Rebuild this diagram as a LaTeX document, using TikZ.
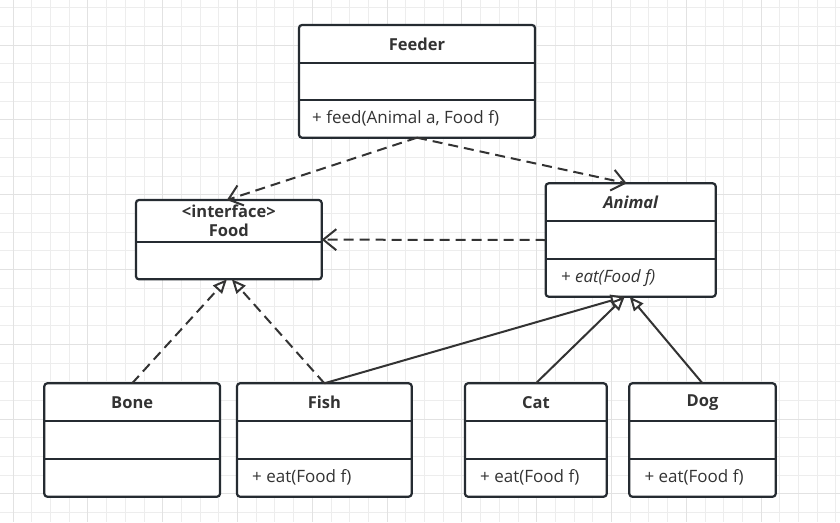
\documentclass[tikz,border=0pt]{standalone}
\usepackage{fontspec}
\setmainfont{Open Sans}
\usetikzlibrary{arrows.meta}
\definecolor{boxline}{HTML}{252B31}
\definecolor{conn}{HTML}{333333}
\definecolor{gridminor}{HTML}{EDEDED}
\definecolor{gridmajor}{HTML}{E2E2E2}
\definecolor{txt}{HTML}{333333}
\begin{document}
\begin{tikzpicture}[x=1pt,y=-1pt,
  umlbox/.style={draw=boxline, line width=2.2pt, fill=white, rounded corners=3pt, inner sep=0pt, outer sep=0pt},
  divider/.style={draw=boxline, line width=2.2pt},
  title/.style={font=\fontsize{16.5}{19}\selectfont\bfseries, text=txt, inner sep=0pt, align=center},
  member/.style={font=\fontsize{17}{19}\selectfont, text=txt, inner sep=0pt, anchor=west},
  dep/.style={draw=conn, line width=2pt, dash pattern=on 10pt off 6pt, -{Straight Barb[length=13pt,width=21pt]}},
  realize/.style={draw=conn, line width=2pt, dash pattern=on 10pt off 6pt, -{Triangle[open,length=14pt,width=12pt,fill=white]}},
  inherit/.style={draw=conn, line width=2pt, -{Triangle[open,length=14pt,width=12pt,fill=white]}},
  gminor/.style={draw=gridminor, line width=0.8pt},
  gmajor/.style={draw=gridmajor, line width=0.8pt}
]
\useasboundingbox[fill=white] (0,0) rectangle (840,522);
% grid
\foreach \k in {0,...,45} {
  \draw[gminor] ({13+18.7*(\k-1)},0) -- ++(0,522);
}
\foreach \k in {0,...,28} {
  \draw[gminor] (0,{7.6+18.7*\k}) -- ++(840,0);
}
\foreach \k in {0,...,11} {
  \draw[gmajor] ({13+74.8*(\k-1)},0) -- ++(0,522);
}
\foreach \k in {-1,...,6} {
  \draw[gmajor] (0,{419-74.8*\k}) -- ++(840,0);
}

% boxes
\node[umlbox, minimum width=236pt, minimum height=112.7pt] (feeder) at (417,81.35) {};
\node[umlbox, minimum width=185.7pt, minimum height=79.3pt] (food) at (228.85,239.65) {};
\node[umlbox, minimum width=170pt, minimum height=113.4pt] (animal) at (630.7,240) {};
\node[umlbox, minimum width=175.7pt, minimum height=113.4pt] (bone) at (132.15,440) {};
\node[umlbox, minimum width=174.7pt, minimum height=113.4pt] (fish) at (324.35,440) {};
\node[umlbox, minimum width=141.7pt, minimum height=113.4pt] (cat) at (535.85,440) {};
\node[umlbox, minimum width=146.4pt, minimum height=113.4pt] (dog) at (702.5,440) {};

% dividers
\foreach \b in {feeder,animal,bone,fish,cat,dog} {
  \draw[divider] ([yshift=-37.6pt]\b.north west) -- ([yshift=-37.6pt]\b.north east);
  \draw[divider] ([yshift=37.6pt]\b.south west) -- ([yshift=37.6pt]\b.south east);
}
\draw[divider] ([yshift=37.6pt]food.south west) -- ([yshift=37.6pt]food.south east);

% titles
\node[title] (tfeeder) at ([yshift=-19pt]feeder.north) {Feeder};
\node[title] (tfood) at ([yshift=-21pt]food.north) {<interface>\\Food};
\node[title, font=\fontsize{16.5}{19}\selectfont\bfseries\itshape] (tanimal) at ([yshift=-19pt]animal.north) {Animal};
\node[title] (tbone) at ([yshift=-19pt]bone.north) {Bone};
\node[title] (tfish) at ([yshift=-19pt]fish.north) {Fish};
\node[title] (tcat) at ([yshift=-19pt]cat.north) {Cat};
\node[title] (tdog) at ([yshift=-19pt]dog.north) {Dog};

% members
\node[member] (mfeeder) at ([xshift=13pt,yshift=19pt]feeder.south west) {+ feed(Animal a, Food f)};
\node[member, font=\fontsize{17}{19}\selectfont\itshape] (manimal) at ([xshift=15pt,yshift=19pt]animal.south west) {+ eat(Food f)};
\node[member] (mfish) at ([xshift=15pt,yshift=19pt]fish.south west) {+ eat(Food f)};
\node[member] (mcat) at ([xshift=15pt,yshift=19pt]cat.south west) {+ eat(Food f)};
\node[member] (mdog) at ([xshift=15pt,yshift=19pt]dog.south west) {+ eat(Food f)};

% connectors
\draw[dep] (feeder.south) -- ([xshift=-2pt]food.north);
\draw[dep] (feeder.south) -- ([xshift=-4pt]animal.north);
\draw[dep] (animal.west) -- (food.east);
\draw[realize] (bone.north) -- ([xshift=-2pt]food.south);
\draw[realize] (fish.north) -- ([xshift=3pt]food.south);
\draw[inherit] (fish.north) -- ([xshift=-6pt]animal.south);
\draw[inherit] (cat.north) -- ([xshift=-6pt]animal.south);
\draw[inherit] (dog.north) -- ([xshift=-1pt]animal.south);
\end{tikzpicture}
\end{document}
